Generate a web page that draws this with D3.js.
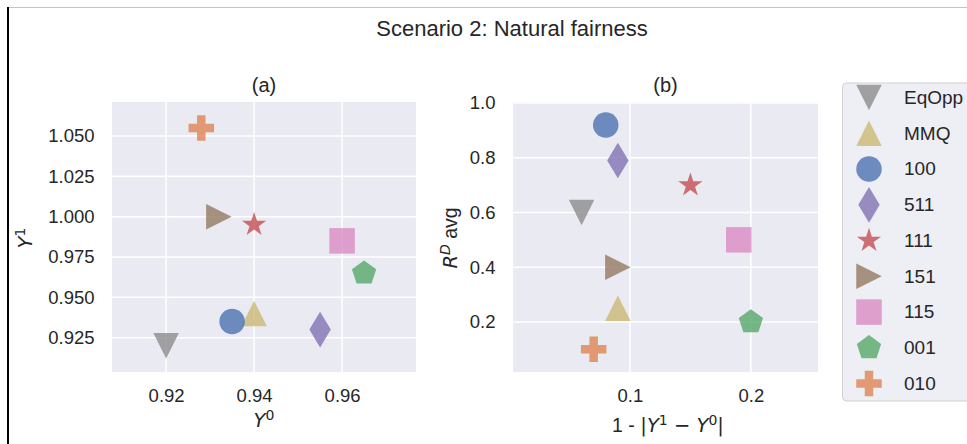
<!DOCTYPE html>
<html>
<head>
<meta charset="utf-8">
<script src="https://cdn.jsdelivr.net/npm/d3@7"></script>
<style>
  body { margin: 0; background: #fff; }
  svg { display: block; }
  text { font-family: "Liberation Sans", Arial, sans-serif; fill: #262626; }
  .math { font-family: "DejaVu Sans", sans-serif; font-style: oblique; }
  .mathup { font-family: "DejaVu Sans", sans-serif; }
</style>
</head>
<body>
<svg id="chart" width="967" height="444"></svg>
<script>
// Methods compared in scenario 2
const categories = ["EqOpp", "MMQ", "100", "511", "111", "151", "115", "001", "010"];
const colors = ["#8C8C8C", "#CCB974", "#4C72B0", "#8172B3", "#C44E52", "#937860", "#DA8BC3", "#55A868", "#DD8452"];
const markers = ["triangleDown", "triangleUp", "circle", "thinDiamond", "star", "triangleRight", "square", "pentagon", "plus"];

// Panel (a): outcome rates per group
const y0Values = [0.92, 0.94, 0.935, 0.955, 0.94, 0.932, 0.96, 0.965, 0.928];
const y1Values = [0.92, 0.94, 0.935, 0.93, 0.995, 1.0, 0.985, 0.965, 1.055];

// Panel (b): gap score vs average R^D
const gapValues = [0.06, 0.09, 0.08, 0.09, 0.15, 0.09, 0.19, 0.2, 0.07];
const rdAvgValues = [0.6, 0.25, 0.92, 0.79, 0.7, 0.4, 0.5, 0.2, 0.1];

// Tick values
const ticksAX = [0.92, 0.94, 0.96];
const ticksAY = [0.925, 0.95, 0.975, 1.0, 1.025, 1.05];
const ticksBX = [0.1, 0.2];
const ticksBY = [0.2, 0.4, 0.6, 0.8, 1.0];

const svg = d3.select("#chart");
const MS = 25.5;          // marker size in px
const BG = "#EAEAF2";
const TICK_FS = 18.5;

// Figure frame lines
svg.append("line").attr("x1", 8).attr("x2", 967).attr("y1", 7.5).attr("y2", 7.5)
  .attr("stroke", "#c4c4c4").attr("stroke-width", 1);
svg.append("line").attr("x1", 8).attr("x2", 8).attr("y1", 7).attr("y2", 444)
  .attr("stroke", "#000").attr("stroke-width", 2);

// Marker shapes, centred at the origin
function markerPath(type, m) {
  const h = m / 2;
  const poly = pts => "M" + pts.map(p => p[0].toFixed(2) + "," + p[1].toFixed(2)).join("L") + "Z";
  switch (type) {
    case "triangleDown": return poly([[-h, -h], [h, -h], [0, h]]);
    case "triangleUp": return poly([[0, -h], [h, h], [-h, h]]);
    case "triangleRight": return poly([[h, 0], [-h, h], [-h, -h]]);
    case "square": return poly([[-h, -h], [h, -h], [h, h], [-h, h]]);
    case "circle": return `M${h},0A${h},${h} 0 1,1 ${-h},0A${h},${h} 0 1,1 ${h},0Z`;
    case "thinDiamond": {
      const H = m * 0.7, W = H * 0.6;
      return poly([[0, -H], [W, 0], [0, H], [-W, 0]]);
    }
    case "star": {
      const R = h, r = h * 0.381966, pts = [];
      for (let i = 0; i < 10; i++) {
        const a = -Math.PI / 2 + i * Math.PI / 5, rr = i % 2 ? r : R;
        pts.push([rr * Math.cos(a), rr * Math.sin(a)]);
      }
      return poly(pts);
    }
    case "pentagon": {
      const pts = [];
      for (let i = 0; i < 5; i++) {
        const a = -Math.PI / 2 + i * 2 * Math.PI / 5;
        pts.push([h * Math.cos(a), h * Math.sin(a)]);
      }
      return poly(pts);
    }
    case "plus": {
      const a = m / 6;
      return poly([[-a, -h], [a, -h], [a, -a], [h, -a], [h, a], [a, a], [a, h], [-a, h], [-a, a], [-h, a], [-h, -a], [-a, -a]]);
    }
  }
}

function drawPanel(opts) {
  const { left, right, top, bottom, xDomain, yDomain, xTicks, yTicks, xFmt, yFmt, xs, ys, title } = opts;
  const x = d3.scaleLinear().domain(xDomain).range([left, right]);
  const y = d3.scaleLinear().domain(yDomain).range([bottom, top]);
  const g = svg.append("g");

  g.append("rect").attr("x", left).attr("y", top)
    .attr("width", right - left).attr("height", bottom - top).attr("fill", BG);

  // grid
  g.append("g").selectAll("line").data(xTicks).join("line")
    .attr("x1", d => x(d)).attr("x2", d => x(d)).attr("y1", top).attr("y2", bottom)
    .attr("stroke", "#fff").attr("stroke-width", 1.5);
  g.append("g").selectAll("line").data(yTicks).join("line")
    .attr("x1", left).attr("x2", right).attr("y1", d => y(d)).attr("y2", d => y(d))
    .attr("stroke", "#fff").attr("stroke-width", 1.5);

  // axes
  const ax = g.append("g").attr("transform", `translate(0,${bottom})`)
    .call(d3.axisBottom(x).tickValues(xTicks).tickFormat(xFmt).tickSize(0).tickPadding(17));
  const ay = g.append("g").attr("transform", `translate(${left},0)`)
    .call(d3.axisLeft(y).tickValues(yTicks).tickFormat(yFmt).tickSize(0).tickPadding(17.5));
  [ax, ay].forEach(a => {
    a.select(".domain").remove();
    a.selectAll("text").attr("font-size", TICK_FS).attr("font-family", null).style("fill", "#262626");
  });

  // points
  g.append("g").selectAll("path").data(categories.map((c, i) => i)).join("path")
    .attr("d", i => markerPath(markers[i], MS))
    .attr("transform", i => `translate(${x(xs[i])},${y(ys[i])})`)
    .attr("fill", i => colors[i]).attr("fill-opacity", 0.8);

  g.append("text").attr("x", (left + right) / 2).attr("y", 92)
    .attr("text-anchor", "middle").attr("font-size", 20).text(title);
}

drawPanel({
  left: 112, right: 416, top: 102, bottom: 372,
  xDomain: [0.9077, 0.9768], yDomain: [0.9037, 1.0711],
  xTicks: ticksAX, yTicks: ticksAY,
  xFmt: d3.format(".2f"), yFmt: d3.format(".3f"),
  xs: y0Values, ys: y1Values, title: "(a)"
});

drawPanel({
  left: 513, right: 818, top: 102.5, bottom: 372,
  xDomain: [0.0033, 0.2555], yDomain: [0.017, 1.002],
  xTicks: ticksBX, yTicks: ticksBY,
  xFmt: d3.format(".1f"), yFmt: d3.format(".1f"),
  xs: gapValues, ys: rdAvgValues, title: "(b)"
});

// Figure title
svg.append("text").attr("x", 512).attr("y", 36).attr("text-anchor", "middle")
  .attr("font-size", 22).text("Scenario 2: Natural fairness");

// Axis labels
const LBL_FS = 19.5, SUP_FS = 14;
const lblA = svg.append("text").attr("x", 264).attr("y", 426.5).attr("text-anchor", "middle").attr("font-size", LBL_FS);
lblA.append("tspan").attr("class", "math").text("Y");
lblA.append("tspan").attr("class", "mathup").attr("font-size", SUP_FS).attr("dy", -7).text("0");

const lblAy = svg.append("text").attr("transform", "translate(32,238) rotate(-90)")
  .attr("text-anchor", "middle").attr("font-size", LBL_FS);
lblAy.append("tspan").attr("class", "math").text("Y");
lblAy.append("tspan").attr("class", "mathup").attr("font-size", SUP_FS).attr("dy", -7).text("1");

const lblB = svg.append("text").attr("x", 668).attr("y", 431.5).attr("text-anchor", "middle").attr("font-size", LBL_FS);
lblB.append("tspan").text("1 - ");
lblB.append("tspan").attr("class", "mathup").text("|");
lblB.append("tspan").attr("class", "math").text("Y");
lblB.append("tspan").attr("class", "mathup").attr("font-size", SUP_FS).attr("dy", -7).text("1");
lblB.append("tspan").attr("class", "mathup").attr("dy", 7).text(" \u2212 ");
lblB.append("tspan").attr("class", "math").text("Y");
lblB.append("tspan").attr("class", "mathup").attr("font-size", SUP_FS).attr("dy", -7).text("0");
lblB.append("tspan").attr("class", "mathup").attr("dy", 7).text("|");

const lblBy = svg.append("text").attr("transform", "translate(457,238) rotate(-90)")
  .attr("text-anchor", "middle").attr("font-size", LBL_FS);
lblBy.append("tspan").attr("class", "math").text("R");
lblBy.append("tspan").attr("class", "math").attr("font-size", SUP_FS).attr("dy", -7).text("D");
lblBy.append("tspan").attr("dy", 7).text(" avg");

// Legend
const leg = svg.append("g");
leg.append("rect").attr("x", 842.5).attr("y", 83).attr("width", 140).attr("height", 318)
  .attr("rx", 4).attr("fill", "#EEEEF5").attr("stroke", "#d2d2d2").attr("stroke-width", 1);
const rowH = 35.75;
const rows = leg.selectAll("g.row").data(categories).join("g").attr("class", "row")
  .attr("transform", (d, i) => `translate(0,${97.6 + i * rowH})`);
rows.append("path").attr("d", (d, i) => markerPath(markers[i], MS))
  .attr("transform", "translate(869,0)")
  .attr("fill", (d, i) => colors[i]).attr("fill-opacity", 0.8);
rows.append("text").attr("x", 904).attr("y", 6.2).attr("font-size", 19).text(d => d);
</script>
</body>
</html>
